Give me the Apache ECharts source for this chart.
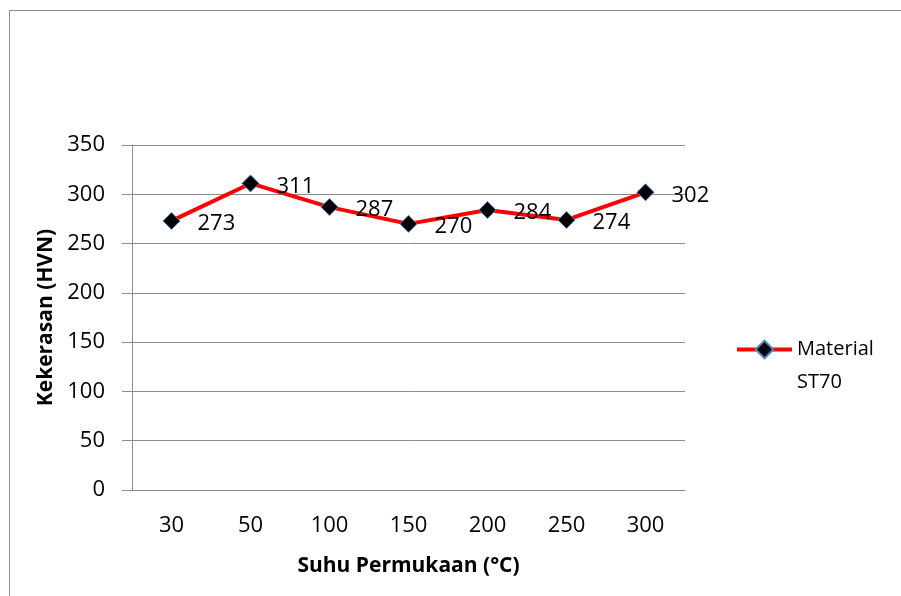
<!DOCTYPE html>
<html>
<head>
<meta charset="utf-8">
<script src="https://cdn.jsdelivr.net/npm/echarts@6/dist/echarts.min.js"></script>
<style>
  html, body { margin: 0; padding: 0; background: #fff; }
  #panel { width: 901px; height: 596px; }
</style>
</head>
<body>
<div id="panel"></div>
<script>
// data
var suhu = ['30', '50', '100', '150', '200', '250', '300'];
var kekerasan = [273, 311, 287, 270, 284, 274, 302];
var seriesName = 'Material ST70';
var yTicks = [0, 50, 100, 150, 200, 250, 300, 350];

var font = '"Open Sans", Lato, sans-serif';

var options = {
    backgroundColor: '#ffffff',
    animation: false,
    textStyle: { fontFamily: font },
    graphic: [{
        type: 'polyline',
        shape: { points: [[9.5, 596], [9.5, 10.5], [901, 10.5]] },
        style: { stroke: '#8c8c8c', lineWidth: 1, fill: null }
    }],
    grid: { left: 132, top: 145, right: 216, bottom: 106 },
    legend: {
        left: 735,
        top: 300,
        padding: 0,
        itemWidth: 55,
        itemHeight: 22,
        itemGap: 0,
        data: [seriesName],
        // blank first line keeps the icon level with "Material"
        formatter: function (name) { return ' \n' + name.replace(' ', '\n'); },
        lineStyle: { width: 4, color: '#ff0000' },
        textStyle: {
            fontFamily: font, fontSize: 20, color: '#000', lineHeight: 33
        }
    },
    xAxis: {
        type: 'category',
        data: suhu,
        boundaryGap: true,
        name: 'Suhu Permukaan (°C)',
        nameLocation: 'middle',
        nameGap: 66,
        nameTextStyle: { fontFamily: font, fontSize: 21, fontWeight: 'bold', color: '#000' },
        axisLine: { show: true, lineStyle: { color: '#8c8c8c', width: 1 } },
        axisTick: { show: false },
        axisLabel: { margin: 25, fontSize: 22, color: '#000', fontFamily: font },
        splitLine: { show: false }
    },
    yAxis: {
        type: 'value',
        min: yTicks[0],
        max: yTicks[yTicks.length - 1],
        interval: 50,
        name: 'Kekerasan (HVN)',
        nameLocation: 'middle',
        nameGap: 74,
        nameTextStyle: { fontFamily: font, fontSize: 21, fontWeight: 'bold', color: '#000' },
        axisLine: { show: true, lineStyle: { color: '#8c8c8c', width: 1 } },
        axisTick: { show: true, length: 10, lineStyle: { color: '#8c8c8c' } },
        axisLabel: { margin: 27, fontSize: 22, color: '#000', fontFamily: font },
        splitLine: { show: true, lineStyle: { color: '#8c8c8c', width: 1 } }
    },
    series: [{
        name: seriesName,
        type: 'line',
        data: kekerasan,
        symbol: 'diamond',
        symbolSize: 17,
        lineStyle: { color: '#ff0000', width: 4 },
        itemStyle: { color: '#000000', borderColor: '#4f81bd', borderWidth: 1 },
        label: {
            show: true,
            position: 'right',
            distance: 17,
            offset: [0, 3],
            fontSize: 22,
            color: '#000',
            fontFamily: font
        }
    }]
};

var myChart = echarts.init(document.getElementById('panel'), null, { renderer: 'canvas' });
myChart.setOption(options);
</script>
</body>
</html>
